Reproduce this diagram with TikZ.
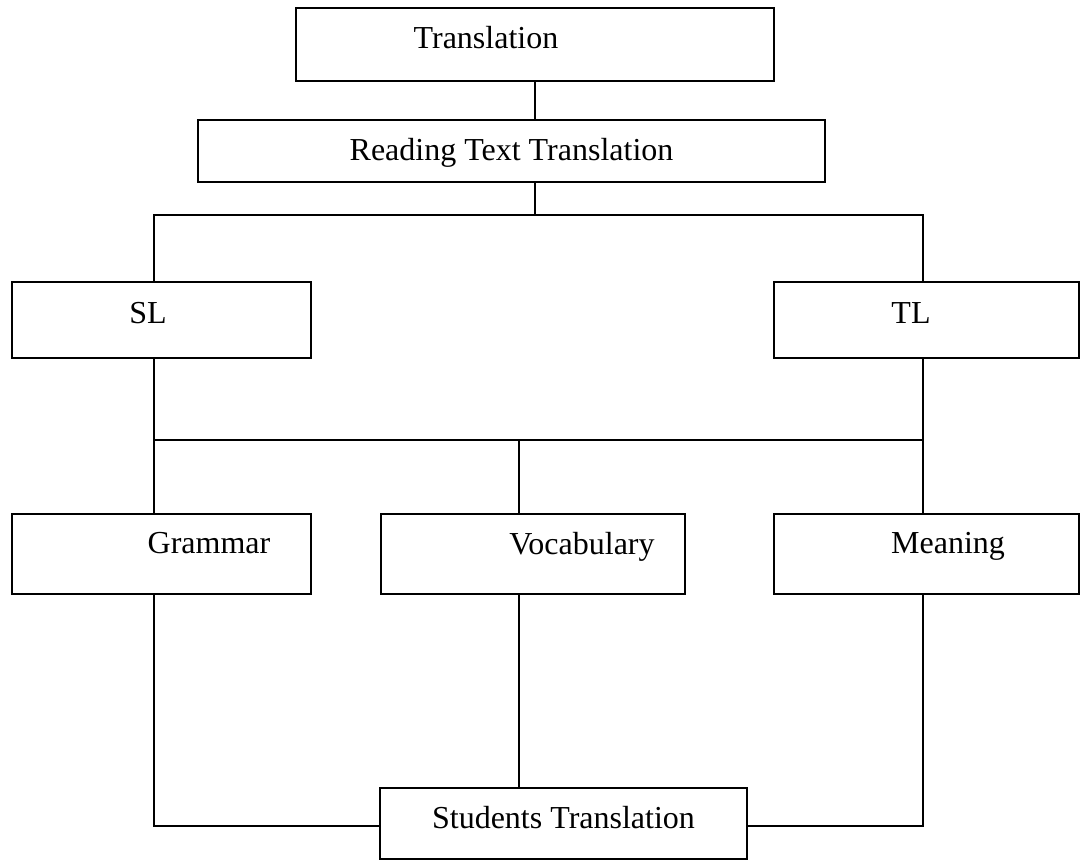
\documentclass[tikz,border=0pt]{standalone}
\usepackage{fontspec}
\setmainfont{Liberation Serif}

\tikzset{
  box/.style={draw, line width=2pt, inner sep=0pt},
  txt/.style={anchor=base, inner sep=0pt, font=\fontsize{32}{38}\selectfont},
  link/.style={line width=2pt}
}

\begin{document}
\begin{tikzpicture}[x=1pt, y=-1pt]
\useasboundingbox (0,0) rectangle (1084,861);
% boxes
\node[box, minimum width=478pt, minimum height=73pt] (trans) at (535,44.5) {};
\node[box, minimum width=627pt, minimum height=62pt] (read) at (511.5,151) {};
\node[box, minimum width=299pt, minimum height=76pt] (sl) at (161.5,320) {};
\node[box, minimum width=305pt, minimum height=76pt] (tl) at (926.5,320) {};
\node[box, minimum width=299pt, minimum height=80pt] (gram) at (161.5,554) {};
\node[box, minimum width=304pt, minimum height=80pt] (voc) at (533,554) {};
\node[box, minimum width=305pt, minimum height=80pt] (mean) at (926.5,554) {};
\node[box, minimum width=367pt, minimum height=71pt] (stud) at (563.5,823.5) {};
% texts
\node[txt] (transtxt) at (486,49) {Translation};
\node[txt] (readtxt) at (511.5,161) {Reading Text Translation};
\node[txt] (sltxt) at (148,323) {SL};
\node[txt] (tltxt) at (911,323) {TL};
\node[txt] (gramtxt) at (209,553) {Grammar};
\node[txt] (voctxt) at (582,554) {Vocabulary};
\node[txt] (meantxt) at (948,553) {Meaning};
\node[txt] (studtxt) at (563.5,828) {Students Translation};
% branch points
\coordinate (xl) at (154,0);
\coordinate (xm) at (519,0);
\coordinate (xr) at (923,0);
\coordinate (topbus) at (0,215);
\coordinate (midbus) at (0,440);
\coordinate (lowbus) at (0,826);
% connectors
\draw[link] (trans.south) -- (trans.south |- read.north);
\draw[link] (read.south -| trans.south) -- (trans.south |- topbus);
\draw[link] (sl.north -| xl) -- (xl |- topbus) -- (xr |- topbus) -- (tl.north -| xr);
\draw[link] (sl.south -| xl) -- (gram.north -| xl);
\draw[link] (tl.south -| xr) -- (mean.north -| xr);
\draw[link] (xl |- midbus) -- (xr |- midbus);
\draw[link] (xm |- midbus) -- (voc.north -| xm);
\draw[link] (gram.south -| xl) |- (stud.west |- lowbus);
\draw[link] (voc.south -| xm) -- (stud.north -| xm);
\draw[link] (mean.south -| xr) |- (stud.east |- lowbus);
\end{tikzpicture}
\end{document}
